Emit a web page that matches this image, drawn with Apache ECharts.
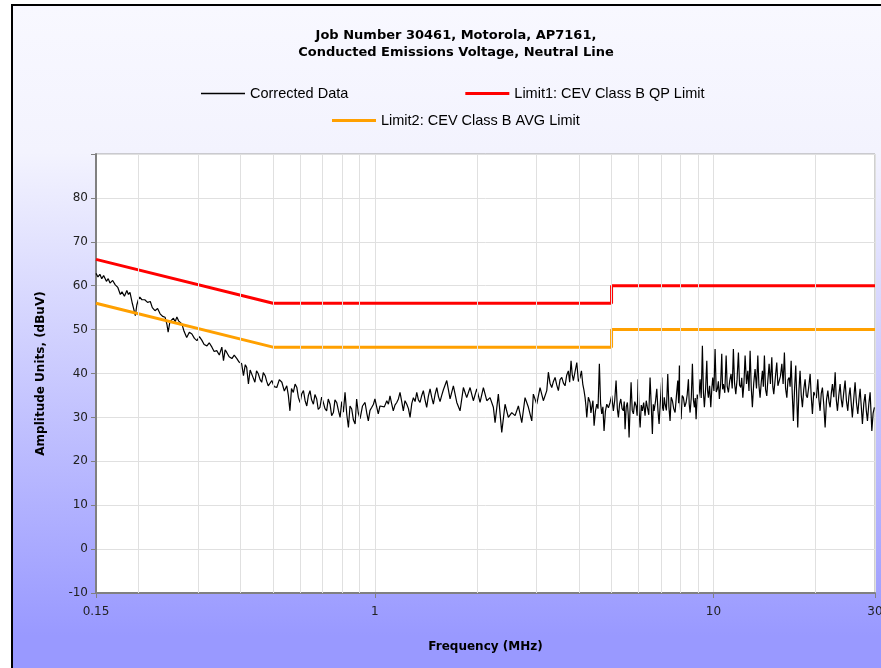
<!DOCTYPE html>
<html><head><meta charset="utf-8">
<script src="https://cdn.jsdelivr.net/npm/echarts@6/dist/echarts.min.js"></script>
<style>
html,body{margin:0;padding:0;background:#fff;width:881px;height:668px;overflow:hidden}
#frame{position:absolute;left:11px;top:4px;width:880px;height:670px;border-left:2px solid #000;border-top:2px solid #000;background:linear-gradient(to bottom,#f8f8ff 0%,#f3f3fe 22%,#9999ff 94%,#9999ff 100%)}
#chart{position:absolute;left:0;top:0;width:881px;height:668px}
</style></head><body><div id="frame"></div><div id="chart"></div>
<script>
const titleLines = ['Job Number 30461, Motorola, AP7161,', 'Conducted Emissions Voltage, Neutral Line'];
const seriesNames = ['Corrected Data', 'Limit1: CEV Class B QP Limit', 'Limit2: CEV Class B AVG Limit'];
const xAxisName = 'Frequency (MHz)';
const yAxisName = 'Amplitude Units, (dBuV)';
const gridFreqs = [0.2,0.3,0.4,0.5,0.6,0.7,0.8,0.9,2,3,4,5,6,7,8,9,20];

const limitFreq = [0.15, 0.5, 5, 5, 30];
const limitQP   = [66, 56, 56, 60, 60];
const limitAVG  = [56, 46, 46, 50, 50];

// Corrected Data: [frequency MHz, level dBuV]
const correctedData = [
[0.150,62.8],[0.152,62.0],[0.154,62.6],[0.156,61.6],[0.158,62.3],[0.161,61.0],[0.163,61.6],[0.165,60.6],[0.168,61.2],[0.171,60.2],
[0.174,59.6],[0.177,58.0],[0.179,58.6],[0.182,57.6],[0.185,58.9],[0.187,58.0],[0.189,58.5],[0.192,56.0],[0.194,54.6],[0.196,53.2],
[0.198,55.6],[0.200,56.8],[0.202,57.4],[0.205,56.8],[0.209,56.8],[0.213,56.2],[0.217,56.4],[0.220,55.0],[0.224,54.3],[0.228,54.8],
[0.232,53.6],[0.236,53.0],[0.240,52.8],[0.243,51.2],[0.245,49.4],[0.248,51.8],[0.251,51.7],[0.254,52.6],[0.257,51.8],[0.260,52.9],
[0.263,52.0],[0.266,51.6],[0.269,51.3],[0.273,49.6],[0.278,48.2],[0.283,49.4],[0.288,49.0],[0.293,48.0],[0.298,47.5],[0.303,48.4],
[0.308,47.6],[0.313,46.6],[0.319,46.3],[0.324,47.0],[0.330,46.0],[0.335,45.0],[0.341,45.2],[0.347,44.2],[0.353,46.0],[0.357,42.9],
[0.361,45.4],[0.365,44.8],[0.371,43.8],[0.378,43.4],[0.384,44.2],[0.391,43.4],[0.397,42.6],[0.404,42.2],[0.409,39.5],[0.414,42.0],
[0.418,41.4],[0.423,37.6],[0.428,40.8],[0.433,41.1],[0.437,39.0],[0.442,38.0],[0.447,40.6],[0.452,40.0],[0.458,38.6],[0.463,38.0],
[0.468,40.2],[0.474,39.5],[0.479,38.2],[0.484,37.2],
[0.496,38.4],[0.504,37.0],[0.513,36.8],[0.522,38.6],[0.531,38.0],[0.540,36.0],[0.549,37.2],[0.555,35.0],[0.561,31.5],[0.567,36.6],
[0.574,35.7],[0.581,37.6],[0.588,36.8],[0.594,34.6],[0.601,33.4],[0.608,35.4],[0.615,36.1],[0.622,33.8],[0.629,32.6],[0.636,35.0],
[0.643,36.1],[0.650,34.0],[0.658,33.0],[0.665,35.2],[0.673,34.2],[0.680,31.8],[0.688,32.3],[0.696,34.6],[0.704,33.4],[0.712,32.0],
[0.720,31.5],[0.728,34.2],[0.737,33.0],[0.745,30.4],[0.754,31.1],[0.762,34.0],[0.771,33.4],[0.780,31.6],[0.789,30.0],[0.798,33.6],
[0.807,31.2],[0.816,35.7],[0.826,30.6],[0.835,27.7],[0.844,32.6],[0.854,31.9],[0.864,29.4],[0.874,28.5],[0.883,34.2],[0.893,31.0],
[0.904,29.7],[0.919,32.6],[0.935,33.4],[0.946,31.0],[0.956,29.2],[0.967,31.6],[0.979,32.3],[0.990,33.0],[1.000,34.2],[1.012,32.4],
[1.023,30.8],[1.035,32.6],[1.047,33.0],[1.066,32.4],[1.084,33.8],[1.096,33.0],[1.108,34.9],[1.120,33.2],[1.133,31.5],[1.146,32.8],
[1.160,33.4],[1.173,34.2],[1.186,35.7],[1.200,33.6],[1.213,31.5],[1.227,33.8],[1.242,33.0],[1.256,32.0],[1.270,30.0],[1.285,33.2],
[1.299,34.5],[1.314,33.6],[1.329,35.7],[1.344,34.0],[1.359,33.4],[1.375,35.0],[1.390,36.1],[1.406,34.0],[1.422,32.3],[1.438,34.8],
[1.455,36.5],[1.471,34.6],[1.488,33.0],[1.505,35.2],[1.523,36.8],[1.540,34.8],[1.557,33.6],[1.575,35.0],[1.593,36.3],
[1.630,38.4],[1.667,34.2],[1.705,37.2],[1.745,33.4],[1.784,31.5],[1.825,36.8],[1.867,34.5],[1.910,36.8],[1.953,33.8],[1.999,36.5],
[2.044,33.4],[2.091,36.8],[2.140,33.8],[2.188,34.5],[2.238,32.3],[2.264,28.8],[2.315,35.3],[2.369,26.6],[2.423,33.0],[2.478,30.0],
[2.536,31.1],[2.594,30.4],[2.653,32.6],[2.715,28.8],[2.776,34.5],[2.840,32.3],[2.906,29.2],[2.937,35.3],[3.006,33.0],[3.074,36.8],
[3.144,33.8],[3.218,36.1],[3.253,40.3],[3.290,37.8],[3.329,36.8],[3.367,38.2],[3.405,39.1],[3.443,37.4],[3.482,36.1],[3.523,38.6],
[3.564,39.1],[3.604,37.8],[3.644,37.2],[3.685,39.6],[3.727,40.6],[3.760,38.0],[3.796,42.9],[3.826,39.8],[3.856,38.4],[3.900,40.4],
[3.947,42.5],[3.990,38.2],[4.036,39.1],[4.074,40.6],[4.111,37.6],[4.144,36.2],[4.176,34.5],[4.200,32.6],[4.224,30.0],[4.270,34.6],
[4.320,33.4],[4.345,31.0],[4.371,32.3],[4.405,33.8],[4.440,28.1],[4.480,31.4],[4.522,33.0],[4.560,32.0],[4.602,42.2],[4.640,33.2],
[4.677,30.8],[4.714,32.4],[4.751,26.9],[4.795,31.4],[4.840,33.0],[4.895,32.2],
[4.949,33.4],[5.005,35.0],[5.062,31.5],[5.110,34.0],[5.156,38.4],[5.200,32.0],[5.238,30.0],[5.280,33.0],[5.324,34.2],[5.370,32.0],
[5.418,31.5],[5.450,33.6],[5.481,27.3],[5.525,32.4],[5.568,33.4],[5.600,30.6],[5.633,25.4],[5.670,32.0],[5.710,38.0],[5.755,31.6],
[5.801,30.8],[5.855,33.6],[5.909,32.6],[5.950,30.4],[5.990,38.7],[6.030,31.4],[6.072,27.7],[6.120,32.8],[6.166,31.5],[6.220,33.4],
[6.279,30.4],[6.330,33.8],[6.379,32.3],[6.440,30.6],[6.497,39.1],[6.550,32.6],[6.600,26.2],[6.640,33.0],[6.677,31.5],[6.740,33.6],
[6.801,36.5],[6.855,31.6],[6.908,28.5],[6.970,33.8],[7.037,39.1],[7.075,32.2],[7.114,31.5],[7.155,34.6],[7.196,33.0],[7.260,31.6],
[7.328,39.9],[7.385,32.4],[7.444,29.2],[7.500,34.6],[7.562,33.8],[7.630,32.0],[7.702,31.1],[7.770,34.8],[7.844,38.4],[7.890,33.2],
[7.931,41.8],[7.975,33.0],[8.023,29.6],[8.085,35.0],[8.150,34.5],[8.225,32.4],[8.301,33.4],[8.365,35.2],[8.433,38.7],[8.480,33.0],
[8.530,31.1],[8.600,34.6],[8.665,42.2],[8.725,34.0],[8.784,32.3],[8.835,34.4],[8.885,29.6],[8.955,35.2],[9.026,34.2],[9.080,35.8],
[9.130,38.7],[9.200,34.4],[9.274,46.3],[9.340,35.6],[9.401,32.3],[9.480,36.6],[9.556,42.9],[9.610,36.0],[9.659,34.5],[9.740,37.2],
[9.818,32.3],[9.885,36.4],[9.952,39.1],[10.03,36.0],[10.11,45.6],[10.19,35.8],[10.27,36.5],[10.34,38.2],[10.41,34.2],[10.50,37.6],
[10.58,44.5],[10.64,36.4],[10.70,37.6],[10.80,35.6],[10.90,44.1],[10.98,37.0],[11.07,35.7],[11.17,38.4],[11.27,39.9],[11.36,36.6],
[11.45,45.6],[11.54,37.8],[11.64,35.3],[11.74,38.6],[11.85,44.8],[11.94,37.4],[12.04,36.8],[12.12,39.0],[12.21,34.5],[12.30,37.6],
[12.40,44.1],
[12.52,37.6],[12.63,40.6],[12.73,36.0],[12.83,45.2],[12.93,36.8],[13.03,32.3],[13.15,37.8],[13.27,41.0],[13.40,36.6],[13.52,44.1],
[13.62,37.4],[13.73,34.5],[13.84,38.0],[13.95,40.6],[14.04,37.0],[14.14,44.1],[14.25,36.4],[14.37,34.9],[14.48,38.6],[14.60,42.2],
[14.73,37.6],[14.87,43.7],[14.97,37.0],[15.07,35.3],[15.22,38.8],[15.38,42.5],[15.50,37.2],[15.63,36.8],[15.77,39.4],[15.92,42.2],
[16.06,37.6],[16.20,44.8],[16.33,36.6],[16.47,34.5],[16.60,38.6],[16.73,39.1],[16.84,37.0],[16.96,42.9],[17.09,35.4],[17.22,29.2],
[17.36,36.6],[17.50,41.8],[17.62,34.6],[17.74,27.7],[17.88,36.0],[18.02,40.6],[18.16,35.2],[18.31,32.3],[18.48,36.4],[18.65,38.7],
[18.80,35.0],[18.94,34.5],[19.12,37.0],[19.30,39.9],[19.45,34.6],[19.60,30.8],[19.78,35.8],[19.96,36.1],[20.14,34.4],[20.33,38.7],
[20.49,34.0],[20.65,31.5],[20.81,35.4],[20.98,36.8],[21.17,33.0],[21.37,27.7],[21.57,34.0],[21.77,36.1],[21.94,33.6],[22.11,32.3],
[22.28,35.4],[22.46,37.6],[22.67,34.6],[22.88,40.3],[23.06,34.0],[23.24,31.5],[23.45,35.0],[23.66,37.6],[23.84,34.2],[24.03,32.3],
[24.25,35.6],[24.48,38.4],[24.70,33.8],[24.93,31.5],[25.12,34.8],[25.32,36.8],[25.52,33.2],[25.72,30.0],[25.96,34.2],[26.20,38.0],
[26.44,33.4],[26.69,30.8],[26.90,34.0],[27.11,36.5],[27.32,32.6],[27.54,28.5],[27.80,33.2],[28.05,35.3],[28.27,31.6],[28.50,29.2],
[28.76,33.0],[29.02,35.7],[29.19,31.4],[29.36,26.9],[29.62,31.0],[29.88,32.3]
];

const chart = echarts.init(document.getElementById('chart'), null, {renderer: 'canvas'});
const tickFont = 'DejaVu Sans';
const legendText = {fontFamily: 'Liberation Sans', fontSize: 14.5, color: '#000'};
const option = {
  backgroundColor: 'transparent',
  animation: false,
  title: {
    text: titleLines.join('\n'), left: 451, top: 22, textAlign: 'center',
    textStyle: {fontFamily: 'DejaVu Sans', fontWeight: 'bold', fontSize: 13, lineHeight: 17, color: '#000'}
  },
  legend: [
    {data: [
      {name: seriesNames[0], icon: 'path://M0,0h44v1.5h-44z'},
      {name: seriesNames[1], icon: 'path://M0,0h44v3h-44z'}
     ], left: 196, top: 81, itemWidth: 44, itemHeight: 14, itemGap: 117, itemTextGap: 7,
     selectedMode: false, textStyle: legendText},
    {data: [{name: seriesNames[2], icon: 'path://M0,0h44v3h-44z'}],
     left: 327, top: 108, itemWidth: 44, itemHeight: 14, itemTextGap: 7,
     selectedMode: false, textStyle: legendText}
  ],
  grid: {left: 96, right: 6, top: 154, bottom: 75, show: true, backgroundColor: '#fff',
         borderColor: '#a0a0a0', borderWidth: 1, outerBoundsMode: 'none', containLabel: false},
  xAxis: {
    type: 'log', logBase: 10, min: 0.15, max: 30,
    name: xAxisName, nameLocation: 'middle', nameGap: 48,
    nameTextStyle: {fontFamily: tickFont, fontWeight: 'bold', fontSize: 12, color: '#000'},
    axisLine: {show: true, onZero: false, lineStyle: {color: '#808080', width: 2}},
    axisTick: {show: true, length: 5, lineStyle: {color: '#808080'}},
    axisLabel: {fontFamily: tickFont, fontSize: 12, color: '#222', margin: 13,
      formatter: v => String(Number(Number(v).toPrecision(6)))},
    splitLine: {show: true, lineStyle: {color: '#e0e0e0', width: 1}}
  },
  yAxis: {
    type: 'value', min: -10, max: 90, interval: 10,
    name: yAxisName, nameLocation: 'middle', nameGap: 49,
    nameTextStyle: {fontFamily: tickFont, fontWeight: 'bold', fontSize: 12, color: '#000'},
    axisLine: {show: true, onZero: false, lineStyle: {color: '#808080', width: 2}},
    axisTick: {show: true, length: 5, lineStyle: {color: '#808080'}},
    axisLabel: {fontFamily: tickFont, fontSize: 12, color: '#222', margin: 8,
      formatter: v => (v === 90 ? '' : String(v))},
    splitLine: {show: true, lineStyle: {color: '#e0e0e0', width: 1}}
  },
  series: [
    {name: 'grid', type: 'line', data: [], z: 1, silent: true,
     markLine: {silent: true, symbol: 'none', label: {show: false}, animation: false,
       lineStyle: {color: '#e0e0e0', type: 'solid', width: 1},
       emphasis: {disabled: true},
       data: gridFreqs.map(f => ({xAxis: f}))}},
    {name: seriesNames[0], type: 'line', data: correctedData, symbol: 'none', z: 3,
     lineStyle: {color: '#000', width: 1.2}, itemStyle: {color: '#000'}},
    {name: seriesNames[1], type: 'line', data: limitFreq.map((f, i) => [f, limitQP[i]]), symbol: 'none', z: 4,
     lineStyle: {color: '#ff0000', width: 3}, itemStyle: {color: '#ff0000'}},
    {name: seriesNames[2], type: 'line', data: limitFreq.map((f, i) => [f, limitAVG[i]]), symbol: 'none', z: 4,
     lineStyle: {color: '#ffa000', width: 3}, itemStyle: {color: '#ffa000'}}
  ]
};
chart.setOption(option);
</script></body></html>
